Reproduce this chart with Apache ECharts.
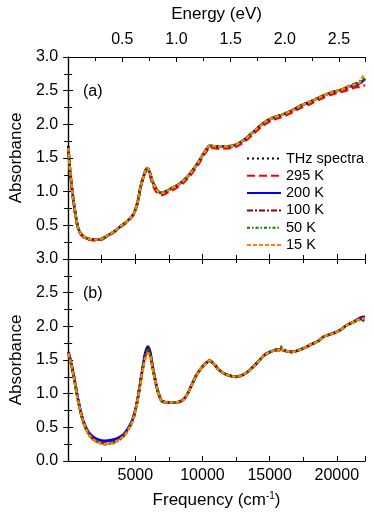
<!DOCTYPE html>
<html>
<head>
<meta charset="utf-8">
<script src="https://cdn.jsdelivr.net/npm/echarts@6.0.0/dist/echarts.min.js"></script>
<style>
  html, body { margin: 0; padding: 0; background: #fff; }
  #main { width: 374px; height: 518px; }
</style>
</head>
<body>
<div id="main"></div>
<script>
// 数据
var names = ['THz spectra', '295 K', '200 K', '100 K', '50 K', '15 K'];

var thzFreq = [5, 15, 25, 35];
var thzVal = [1.68, 1.66, 1.65, 1.64];

// (a) 面板
var freqA = [20, 150, 390, 755, 1100, 1490, 1900, 2300, 2950, 3500, 3930, 4500, 4900, 5200, 5390, 5650, 5880, 6050, 6250, 6500, 6730, 6980, 7500, 8080, 8560, 9000, 9420, 9800, 10030, 10300, 10520, 11250, 12220, 12960, 13690, 14420, 15150, 15880, 16600, 17350, 18080, 18810, 19550, 20280, 20800, 21370, 21700, 21980, 22100];
var a295 = [1.64, 1.28, 0.86, 0.44, 0.33, 0.29, 0.28, 0.28, 0.34, 0.41, 0.48, 0.57, 0.67, 0.86, 1.06, 1.24, 1.33, 1.27, 1.13, 1.02, 0.97, 0.95, 1.00, 1.06, 1.13, 1.22, 1.33, 1.44, 1.52, 1.60, 1.66, 1.64, 1.65, 1.72, 1.84, 1.97, 2.06, 2.11, 2.17, 2.25, 2.31, 2.38, 2.44, 2.48, 2.51, 2.55, 2.56, 2.58, 2.57];
var a200 = [1.65, 1.30, 0.88, 0.45, 0.34, 0.30, 0.29, 0.29, 0.35, 0.42, 0.49, 0.58, 0.68, 0.87, 1.07, 1.25, 1.35, 1.30, 1.17, 1.06, 1.00, 0.98, 1.03, 1.09, 1.16, 1.25, 1.36, 1.47, 1.55, 1.63, 1.68, 1.67, 1.68, 1.75, 1.87, 2.00, 2.09, 2.14, 2.20, 2.28, 2.34, 2.41, 2.47, 2.51, 2.55, 2.58, 2.61, 2.65, 2.67];
var a100 = [1.65, 1.30, 0.88, 0.45, 0.34, 0.30, 0.29, 0.29, 0.35, 0.42, 0.49, 0.58, 0.68, 0.87, 1.07, 1.25, 1.35, 1.30, 1.17, 1.06, 1.00, 0.98, 1.03, 1.09, 1.16, 1.25, 1.36, 1.47, 1.55, 1.63, 1.68, 1.67, 1.68, 1.75, 1.87, 2.00, 2.09, 2.14, 2.20, 2.28, 2.34, 2.41, 2.47, 2.51, 2.55, 2.60, 2.62, 2.66, 2.68];
var a50 = [1.65, 1.30, 0.88, 0.45, 0.34, 0.30, 0.29, 0.29, 0.35, 0.42, 0.49, 0.58, 0.68, 0.87, 1.07, 1.25, 1.35, 1.30, 1.17, 1.06, 1.00, 0.98, 1.03, 1.09, 1.16, 1.25, 1.36, 1.47, 1.55, 1.63, 1.68, 1.67, 1.68, 1.75, 1.87, 2.00, 2.09, 2.14, 2.20, 2.28, 2.34, 2.41, 2.47, 2.51, 2.56, 2.60, 2.64, 2.66, 2.68];
var a15 = [1.65, 1.30, 0.88, 0.45, 0.34, 0.30, 0.29, 0.29, 0.35, 0.42, 0.49, 0.58, 0.68, 0.87, 1.07, 1.25, 1.35, 1.30, 1.17, 1.06, 1.00, 0.98, 1.03, 1.09, 1.16, 1.25, 1.36, 1.47, 1.55, 1.63, 1.68, 1.67, 1.68, 1.75, 1.87, 2.00, 2.09, 2.14, 2.20, 2.28, 2.34, 2.41, 2.47, 2.51, 2.55, 2.59, 2.62, 2.72, 2.74];

// (b) 面板
var freqB = [20, 150, 390, 755, 1120, 1490, 1850, 2220, 2710, 3200, 3680, 4100, 4410, 4700, 4900, 5150, 5390, 5600, 5760, 5930, 6100, 6250, 6430, 6610, 6800, 6980, 7500, 8080, 8500, 8810, 9200, 9540, 9800, 10030, 10300, 10520, 10900, 11250, 11600, 11980, 12470, 13200, 13930, 14300, 14660, 15150, 15500, 15800, 15880, 15950, 16100, 16620, 17350, 18080, 18600, 19060, 19790, 20300, 20760, 21200, 21500, 21800, 22100];
var b295 = [1.61, 1.51, 1.29, 0.89, 0.59, 0.42, 0.33, 0.29, 0.27, 0.28, 0.32, 0.37, 0.45, 0.56, 0.67, 0.89, 1.18, 1.43, 1.59, 1.66, 1.61, 1.44, 1.25, 1.08, 0.96, 0.89, 0.87, 0.87, 0.90, 0.97, 1.13, 1.27, 1.35, 1.41, 1.46, 1.49, 1.43, 1.35, 1.30, 1.27, 1.25, 1.30, 1.43, 1.51, 1.58, 1.63, 1.65, 1.65, 1.68, 1.65, 1.64, 1.62, 1.66, 1.73, 1.78, 1.85, 1.90, 1.95, 2.02, 2.06, 2.09, 2.12, 2.13];
var b200 = [1.62, 1.52, 1.30, 0.90, 0.60, 0.44, 0.36, 0.32, 0.30, 0.31, 0.34, 0.39, 0.47, 0.57, 0.68, 0.90, 1.19, 1.45, 1.62, 1.70, 1.63, 1.45, 1.26, 1.09, 0.97, 0.89, 0.87, 0.87, 0.90, 0.97, 1.13, 1.27, 1.35, 1.41, 1.46, 1.49, 1.43, 1.35, 1.30, 1.27, 1.25, 1.30, 1.43, 1.51, 1.58, 1.63, 1.65, 1.65, 1.67, 1.65, 1.64, 1.62, 1.66, 1.73, 1.78, 1.85, 1.90, 1.95, 2.02, 2.06, 2.10, 2.13, 2.14];
var b100 = [1.61, 1.51, 1.29, 0.89, 0.59, 0.42, 0.33, 0.29, 0.26, 0.27, 0.31, 0.37, 0.45, 0.56, 0.67, 0.89, 1.18, 1.43, 1.59, 1.68, 1.61, 1.44, 1.25, 1.08, 0.96, 0.89, 0.87, 0.87, 0.90, 0.97, 1.13, 1.27, 1.35, 1.41, 1.46, 1.49, 1.43, 1.35, 1.30, 1.27, 1.25, 1.30, 1.43, 1.51, 1.58, 1.63, 1.65, 1.65, 1.68, 1.65, 1.64, 1.62, 1.66, 1.73, 1.78, 1.85, 1.90, 1.95, 2.02, 2.06, 2.09, 2.11, 2.12];
var b50 = [1.60, 1.50, 1.28, 0.88, 0.58, 0.41, 0.32, 0.28, 0.25, 0.26, 0.30, 0.36, 0.44, 0.55, 0.66, 0.88, 1.17, 1.42, 1.56, 1.65, 1.59, 1.43, 1.24, 1.08, 0.96, 0.89, 0.87, 0.87, 0.90, 0.97, 1.13, 1.27, 1.35, 1.41, 1.46, 1.49, 1.43, 1.35, 1.30, 1.27, 1.25, 1.30, 1.43, 1.51, 1.58, 1.63, 1.65, 1.65, 1.70, 1.65, 1.64, 1.62, 1.66, 1.73, 1.78, 1.85, 1.90, 1.95, 2.02, 2.06, 2.08, 2.10, 2.07];
var b15 = [1.60, 1.50, 1.28, 0.88, 0.58, 0.41, 0.32, 0.28, 0.25, 0.26, 0.30, 0.36, 0.44, 0.55, 0.66, 0.88, 1.16, 1.40, 1.53, 1.60, 1.56, 1.42, 1.24, 1.08, 0.96, 0.89, 0.87, 0.87, 0.90, 0.97, 1.13, 1.27, 1.35, 1.41, 1.46, 1.49, 1.43, 1.35, 1.30, 1.27, 1.25, 1.30, 1.43, 1.51, 1.58, 1.63, 1.65, 1.65, 1.68, 1.65, 1.64, 1.62, 1.66, 1.73, 1.78, 1.85, 1.90, 1.95, 2.02, 2.06, 2.09, 2.11, 2.12];

var freqMax = 22100;
var eVperCm = 8065.54; // 1 eV = 8065.54 cm^-1
var font = 'Liberation Sans, Arial, Helvetica, sans-serif';

function pairs(xs, ys) {
    var out = [];
    for (var i = 0; i < xs.length; i++) {
        out.push([xs[i], ys[i]]);
    }
    return out;
}

function line(name, axisIdx, xs, ys, color, dash) {
    return {
        name: name,
        type: 'line',
        xAxisIndex: axisIdx,
        yAxisIndex: axisIdx,
        data: pairs(xs, ys),
        symbol: 'none',
        smooth: 0.3,
        lineStyle: { color: color, width: 2.6, type: dash },
        itemStyle: { color: color },
        z: 2
    };
}

// 轴的公共样式
function xAx(grid, pos, opt) {
    var base = {
        type: 'value',
        gridIndex: grid,
        position: pos,
        min: 0,
        max: freqMax,
        interval: 5000,
        axisLine: { onZero: false, lineStyle: { color: '#000', width: 1.2 } },
        axisTick: { inside: true, length: 5, lineStyle: { color: '#000' } },
        minorTick: { show: true, splitNumber: 2, length: 4, lineStyle: { color: '#000' } },
        splitLine: { show: false },
        axisLabel: { show: false }
    };
    for (var k in opt) base[k] = opt[k];
    return base;
}
function yAx(grid, pos, opt) {
    var base = {
        type: 'value',
        gridIndex: grid,
        position: pos,
        min: 0,
        max: 3,
        interval: 0.5,
        axisLine: { show: true, lineStyle: { color: '#000', width: 1.2 } },
        axisTick: { show: true, inside: true, length: 5, lineStyle: { color: '#000' } },
        minorTick: { show: true, splitNumber: 2, length: 4, lineStyle: { color: '#000' } },
        splitLine: { show: false },
        axisLabel: { show: false }
    };
    for (var k in opt) base[k] = opt[k];
    return base;
}

var tickLabel = {
    show: true,
    color: '#000',
    fontSize: 16,
    fontFamily: font,
    formatter: function (v) { return v.toFixed(1); }
};
var nameStyle = { color: '#000', fontSize: 17, fontFamily: font };

var chart = echarts.init(document.getElementById('main'), null, { renderer: 'canvas' });

var option = {
    animation: false,
    backgroundColor: '#fff',
    title: [
        { text: '(a)', left: 78, top: 79, textStyle: { fontSize: 16, fontWeight: 'normal', fontFamily: font, color: '#000' } },
        { text: '(b)', left: 78, top: 281, textStyle: { fontSize: 16, fontWeight: 'normal', fontFamily: font, color: '#000' } }
    ],
    grid: [
        { left: 63, top: 57, width: 302, height: 202 },
        { left: 63, top: 259, width: 302, height: 202 }
    ],
    legend: {
        data: names,
        orient: 'vertical',
        left: 241,
        top: 146,
        itemWidth: 34,
        itemHeight: 10,
        itemGap: 2.3,
        selectedMode: false,
        itemStyle: { opacity: 0 },
        textStyle: { fontSize: 14.5, fontFamily: font, color: '#000' }
    },
    xAxis: [
        xAx(0, 'bottom', {}),
        xAx(0, 'top', {
            max: freqMax / eVperCm,
            interval: 0.5,
            axisLabel: {
                show: true, color: '#000', fontSize: 16, fontFamily: font, margin: 9,
                showMinLabel: false, showMaxLabel: false,
                formatter: function (v) { return v.toFixed(1); }
            },
            name: 'Energy (eV)',
            nameLocation: 'middle',
            nameGap: 34,
            nameTextStyle: nameStyle
        }),
        xAx(1, 'bottom', {
            axisLabel: {
                show: true, color: '#000', fontSize: 16, fontFamily: font, margin: 7,
                showMinLabel: false, showMaxLabel: false,
                formatter: function (v) { return String(v); }
            },
            name: '{t|Frequency (cm}{s|-1}{t|)}',
            nameLocation: 'middle',
            nameGap: 30,
            nameTextStyle: {
                rich: {
                    t: { fontSize: 17, fontFamily: font, color: '#000' },
                    s: { fontSize: 10, fontFamily: font, color: '#000', verticalAlign: 'top', padding: [0, 0, 8, 0] }
                }
            }
        }),
        xAx(1, 'top', {})
    ],
    yAxis: [
        yAx(0, 'left', {
            axisLabel: Object.assign({}, tickLabel, { showMinLabel: false, margin: 10 }),
            name: 'Absorbance', nameLocation: 'middle', nameGap: 38, nameTextStyle: nameStyle
        }),
        yAx(0, 'right', {}),
        yAx(1, 'left', {
            axisLabel: Object.assign({}, tickLabel, { margin: 10 }),
            name: 'Absorbance', nameLocation: 'middle', nameGap: 38, nameTextStyle: nameStyle
        }),
        yAx(1, 'right', {})
    ],
    series: [
        line('THz spectra', 0, thzFreq, thzVal, '#000000', [2, 3]),
        line('295 K', 0, freqA, a295, '#ff0000', [8, 4]),
        line('200 K', 0, freqA, a200, '#0000ff', 'solid'),
        line('100 K', 0, freqA, a100, '#8b0000', [6, 2, 2, 2]),
        line('50 K', 0, freqA, a50, '#008000', [3, 2, 1.5, 2]),
        line('15 K', 0, freqA, a15, '#ff8000', [4, 2]),
        line('295 K', 2, freqB, b295, '#ff0000', [8, 4]),
        line('200 K', 2, freqB, b200, '#0000ff', 'solid'),
        line('100 K', 2, freqB, b100, '#8b0000', [6, 2, 2, 2]),
        line('50 K', 2, freqB, b50, '#008000', [3, 2, 1.5, 2]),
        line('15 K', 2, freqB, b15, '#ff8000', [4, 2])
    ]
};

chart.setOption(option);
</script>
</body>
</html>
